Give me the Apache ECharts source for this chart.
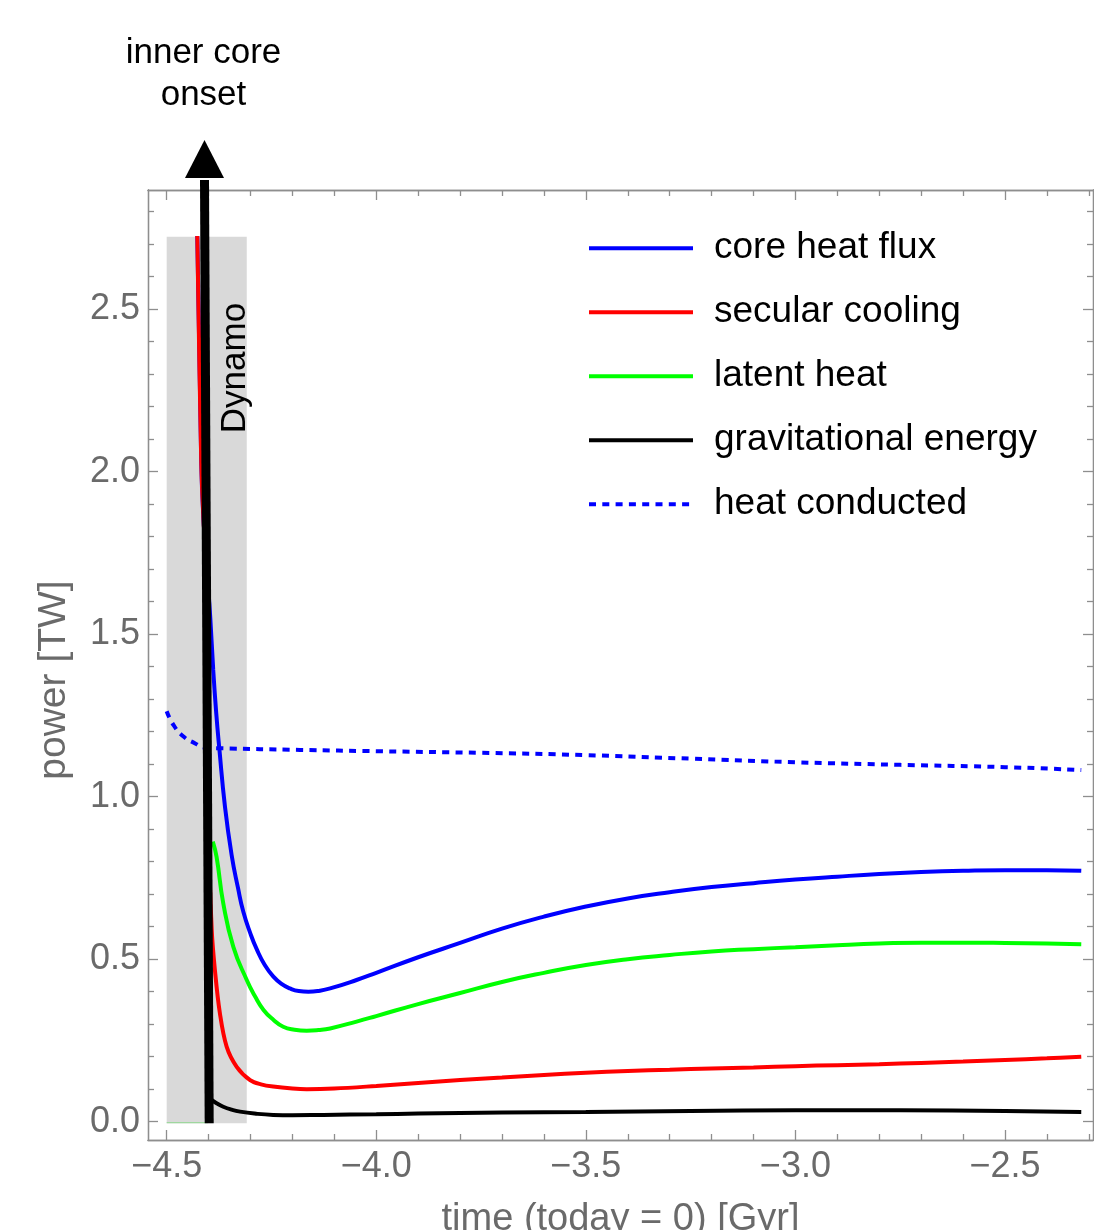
<!DOCTYPE html>
<html>
<head>
<meta charset="utf-8">
<script src="https://cdn.jsdelivr.net/npm/echarts@6/dist/echarts.min.js"></script>
<style>html,body{margin:0;padding:0;background:#fff}#c{width:1094px;height:1230px}</style>
</head>
<body>
<div id="c"></div>
<script>
// ---- data ----
const seriesNames = ['core heat flux', 'secular cooling', 'latent heat', 'gravitational energy', 'heat conducted'];

const coreHeatFlux = [[-4.427,2.725],[-4.4175,2.026],[-4.412,1.85],[-4.404,1.70],[-4.396,1.55],[-4.389,1.39],[-4.382,1.26],[-4.3745,1.149],[-4.361,0.97],[-4.345,0.82],[-4.330,0.72],[-4.317,0.645],[-4.300,0.578],[-4.285,0.530],[-4.266,0.482],[-4.246,0.447],[-4.226,0.424],[-4.206,0.410],[-4.185,0.402],[-4.162,0.400],[-4.135,0.403],[-4.110,0.410],[-4.047,0.436],[-4.0,0.458],[-3.9,0.506],[-3.8,0.550],[-3.7,0.594],[-3.6,0.631],[-3.5,0.662],[-3.4,0.687],[-3.3,0.706],[-3.2,0.722],[-3.1,0.734],[-3.0,0.745],[-2.9,0.754],[-2.8,0.762],[-2.7,0.768],[-2.6,0.772],[-2.5,0.774],[-2.4,0.774],[-2.318,0.772]];
const secularCooling = [[-4.427,2.725],[-4.4175,2.026],[-4.412,1.85],[-4.406,1.70],[-4.400,0.90],[-4.3926,0.59],[-4.385,0.467],[-4.373,0.333],[-4.357,0.231],[-4.333,0.169],[-4.301,0.128],[-4.275,0.115],[-4.246,0.108],[-4.2,0.102],[-4.166,0.100],[-4.1,0.102],[-4.0,0.110],[-3.9,0.119],[-3.8,0.128],[-3.7,0.136],[-3.6,0.144],[-3.5,0.151],[-3.4,0.156],[-3.3,0.160],[-3.2,0.164],[-3.1,0.167],[-3.0,0.171],[-2.9,0.174],[-2.8,0.177],[-2.7,0.181],[-2.6,0.185],[-2.5,0.190],[-2.4,0.195],[-2.318,0.200]];
const latentHeat = [[-4.390,0.862],[-4.381,0.815],[-4.365,0.672],[-4.341,0.538],[-4.309,0.436],[-4.289,0.385],[-4.269,0.344],[-4.245,0.313],[-4.222,0.292],[-4.195,0.283],[-4.166,0.280],[-4.138,0.282],[-4.110,0.287],[-4.047,0.308],[-4.0,0.325],[-3.9,0.362],[-3.8,0.396],[-3.7,0.430],[-3.6,0.458],[-3.5,0.482],[-3.4,0.500],[-3.3,0.513],[-3.2,0.524],[-3.1,0.531],[-3.0,0.537],[-2.9,0.543],[-2.8,0.548],[-2.7,0.551],[-2.6,0.551],[-2.5,0.550],[-2.4,0.548],[-2.318,0.546]];
const latentHeatBefore = [[-4.5,-0.003],[-4.402,-0.003]];
const gravEnergy = [[-4.393,0.067],[-4.380,0.056],[-4.365,0.046],[-4.345,0.037],[-4.325,0.031],[-4.290,0.025],[-4.246,0.021],[-4.2,0.020],[-4.126,0.021],[-4.0,0.023],[-3.9,0.025],[-3.7,0.028],[-3.5,0.030],[-3.25,0.033],[-3.0,0.035],[-2.75,0.035],[-2.5,0.033],[-2.318,0.030]];
const heatConducted = [[-4.5,1.263],[-4.484,1.221],[-4.460,1.185],[-4.432,1.164],[-4.409,1.151],[-4.373,1.149],[-4.182,1.144],[-4.0,1.140],[-3.75,1.135],[-3.5,1.128],[-3.25,1.117],[-3.0,1.106],[-2.75,1.098],[-2.5,1.091],[-2.318,1.082]];

// dynamo band [x0, y0, x1, y1] and label position [x, y]
const dynamoBand = [[-4.5, -0.005, -4.309, 2.723]];
const dynamoLabel = ['Dynamo', -4.337, 2.319];
// inner-core-onset arrow [xBottom, yBottom, xTop, yHeadBase, yTip]
const onsetArrow = [[-4.3986, -0.005, -4.4098, 2.904, 3.021]];
const onsetLabel = 'inner core\nonset';

const xRange = [-4.5446, -2.290];
const yRange = [-0.0563, 2.8668];
const xMajorTicks = [-4.5, -4.0, -3.5, -3.0, -2.5];
const xMinorTicks = [-4.4,-4.3,-4.2,-4.1,-3.9,-3.8,-3.7,-3.6,-3.4,-3.3,-3.2,-3.1,-2.9,-2.8,-2.7,-2.6,-2.4,-2.3];
const yMajorTicks = [0.0, 0.5, 1.0, 1.5, 2.0, 2.5];
const yMinorTicks = [0.1,0.2,0.3,0.4,0.6,0.7,0.8,0.9,1.1,1.2,1.3,1.4,1.6,1.7,1.8,1.9,2.1,2.2,2.3,2.4,2.6,2.7,2.8];
const xTitle = 'time (today = 0) [Gyr]';
const yTitle = 'power [TW]';

// ---- chart ----
const FONT = 'Liberation Sans, Arial, Helvetica, sans-serif';
const AX = '#8e8e8e';
const LBL = '#6a6a6a';
const fmt = v => (v < 0 ? '\u2212' + Math.abs(v).toFixed(1) : v.toFixed(1));

function mkX(pos, ticks, len, labels, extra) {
  return Object.assign({
    type: 'value', position: pos, min: xRange[0], max: xRange[1], gridIndex: 0,
    axisLine: { show: true, onZero: false, lineStyle: { color: AX, width: 1.3 } },
    axisTick: { show: true, inside: true, length: len, customValues: ticks, lineStyle: { color: AX, width: 1.3 } },
    axisLabel: labels ? { show: true, customValues: ticks, formatter: fmt, color: LBL, fontSize: 36, fontFamily: FONT, margin: 9 } : { show: false },
    splitLine: { show: false }
  }, extra || {});
}
function mkY(pos, ticks, len, labels, extra) {
  return Object.assign({
    type: 'value', position: pos, min: yRange[0], max: yRange[1], gridIndex: 0,
    axisLine: { show: true, onZero: false, lineStyle: { color: AX, width: 1.3 } },
    axisTick: { show: true, inside: true, length: len, customValues: ticks, lineStyle: { color: AX, width: 1.3 } },
    axisLabel: labels ? { show: true, customValues: ticks, formatter: fmt, color: LBL, fontSize: 36, fontFamily: FONT, margin: 8 } : { show: false },
    splitLine: { show: false }
  }, extra || {});
}

const lineBase = (name, data, color, extra) => Object.assign({
  name: name, type: 'line', data: data, xAxisIndex: 0, yAxisIndex: 0,
  showSymbol: false, symbol: 'none', smooth: 0.5,
  lineStyle: { color: color, width: 4, cap: 'butt' }, itemStyle: { color: color },
  animation: false, z: 3
}, extra || {});

const option = {
  animation: false,
  backgroundColor: '#ffffff',
  grid: { left: 148, top: 190, right: 1, bottom: 90, containLabel: false, outerBoundsMode: 'none' },
  xAxis: [
    mkX('bottom', xMajorTicks, 10, true, { name: xTitle, nameLocation: 'middle', nameGap: 61,
      nameTextStyle: { color: LBL, fontSize: 38, fontFamily: FONT } }),
    mkX('bottom', xMinorTicks, 6, false),
    mkX('top', xMajorTicks, 10, false),
    mkX('top', xMinorTicks, 6, false)
  ],
  yAxis: [
    mkY('left', yMajorTicks, 10, true, { name: yTitle, nameLocation: 'middle', nameGap: 74, nameRotate: 90,
      nameTextStyle: { color: LBL, fontSize: 39, fontFamily: FONT, padding: [0, 30, 0, 0] } }),
    mkY('left', yMinorTicks, 6, false),
    mkY('right', yMajorTicks, 10, false),
    mkY('right', yMinorTicks, 6, false)
  ],
  legend: {
    orient: 'vertical', left: 587, top: 228.2, padding: 0,
    itemWidth: 104, itemHeight: 14, itemGap: 24,
    data: seriesNames,
    lineStyle: { width: 4 },
    itemStyle: { color: 'rgba(0,0,0,0)', borderWidth: 0, opacity: 0 },
    textStyle: { color: '#000', fontSize: 37, fontFamily: FONT, lineHeight: 40, padding: [0, 0, 0, 16] },
    selectedMode: false
  },
  series: [
    {
      type: 'custom', name: 'dynamoBand', data: dynamoBand, xAxisIndex: 0, yAxisIndex: 0, z: 1,
      renderItem: function (params, api) {
        const p0 = api.coord([api.value(0), api.value(1)]);
        const p1 = api.coord([api.value(2), api.value(3)]);
        const tp = api.coord([dynamoLabel[1], dynamoLabel[2]]);
        return { type: 'group', children: [
          { type: 'rect', shape: { x: p0[0], y: p1[1], width: p1[0] - p0[0], height: p0[1] - p1[1] },
            style: { fill: '#d9d9d9' } },
          { type: 'text', x: tp[0], y: tp[1], rotation: Math.PI / 2,
            style: { text: dynamoLabel[0], fontSize: 35, fontFamily: FONT, fill: '#000', align: 'center', verticalAlign: 'middle' } }
        ] };
      }
    },
    lineBase('latent0', latentHeatBefore, '#9fd79f', { lineStyle: { color: '#9fd79f', width: 1.2 }, z: 2, smooth: false }),
    lineBase(seriesNames[0], coreHeatFlux, '#0000ff'),
    lineBase(seriesNames[1], secularCooling, '#ff0000', { smooth: 0.35 }),
    lineBase(seriesNames[2], latentHeat, '#00ff00'),
    lineBase(seriesNames[3], gravEnergy, '#000000'),
    lineBase(seriesNames[4], heatConducted, '#0000ff', { lineStyle: { color: '#0000ff', width: 4, type: [7, 6.3], cap: 'butt' } }),
    {
      type: 'custom', name: 'onsetArrow', data: onsetArrow, xAxisIndex: 0, yAxisIndex: 0, z: 10, clip: false,
      renderItem: function (params, api) {
        const b = api.coord([api.value(0), api.value(1)]);
        const h = api.coord([api.value(2), api.value(3)]);
        const t = api.coord([api.value(2), api.value(4)]);
        return { type: 'group', children: [
          { type: 'line', shape: { x1: b[0], y1: b[1], x2: h[0], y2: h[1] + 2 }, style: { stroke: '#000', lineWidth: 9 } },
          { type: 'polygon', shape: { points: [[t[0], t[1]], [h[0] - 19.5, h[1]], [h[0] + 19.5, h[1]]] }, style: { fill: '#000' } },
          { type: 'text', x: t[0] - 1, y: t[1] - 24,
            style: { text: onsetLabel, fontSize: 35, lineHeight: 42, fontFamily: FONT, fill: '#000', align: 'center', verticalAlign: 'bottom' } }
        ] };
      }
    }
  ]
};

const chart = echarts.init(document.getElementById('c'), null, { renderer: 'canvas' });
chart.setOption(option);
</script>
</body>
</html>
